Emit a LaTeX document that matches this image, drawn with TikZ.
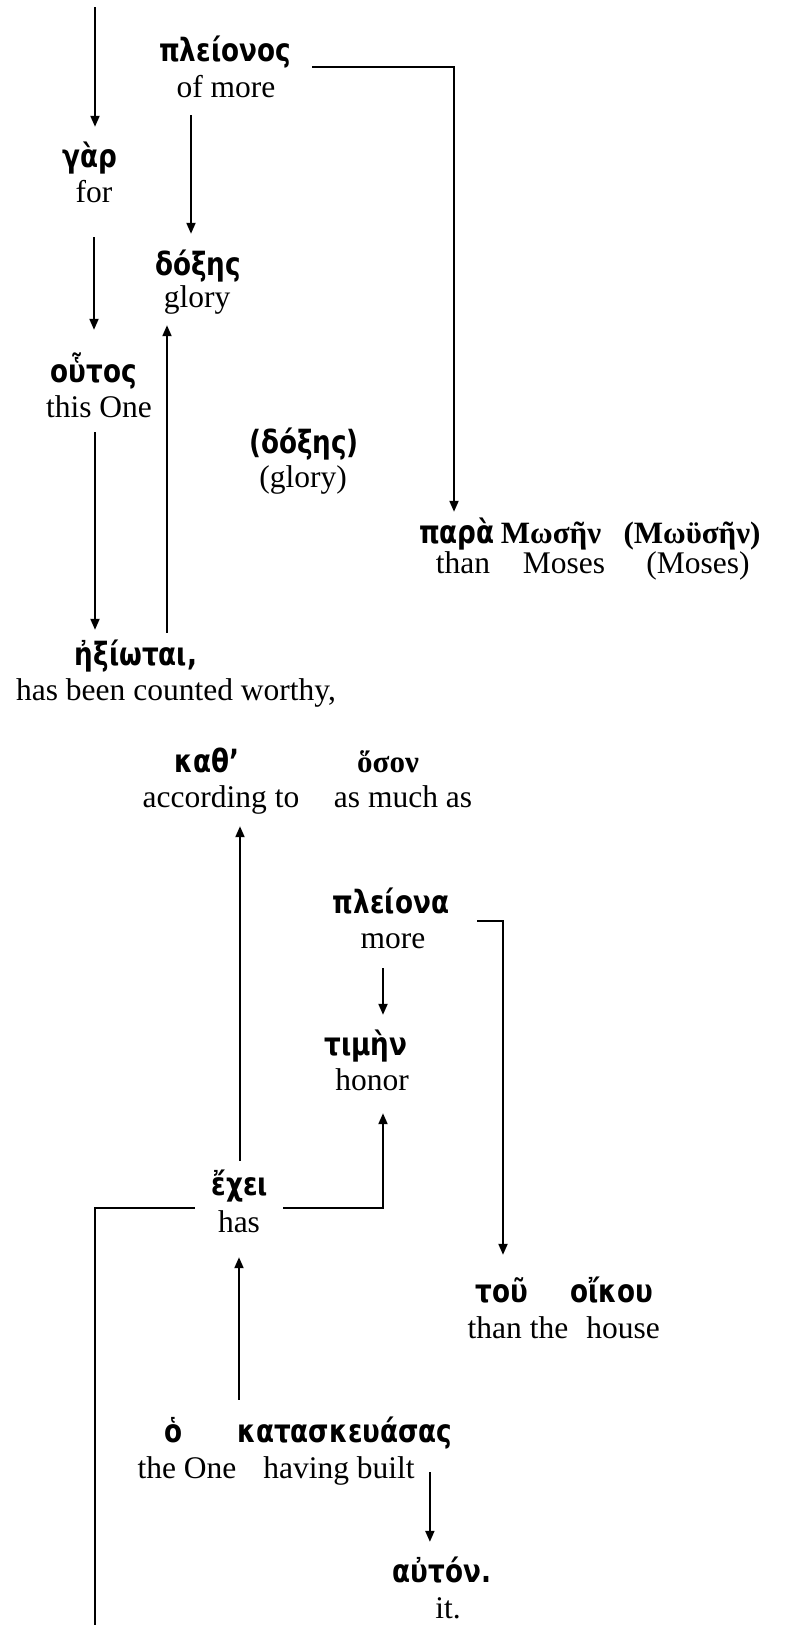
\documentclass[tikz,border=0pt]{standalone}
\usepackage{fontspec}
\setmainfont{Liberation Serif}
\newfontfamily\grf[FakeStretch=0.82]{DejaVu Sans}
\newfontfamily\grs{Liberation Serif}
\usetikzlibrary{arrows.meta,calc}
\begin{document}
\begin{tikzpicture}[x=1pt,y=-1pt,
  en/.style={anchor=base, inner sep=0pt, text height=21pt, text depth=7pt, font=\fontsize{31.5}{36}\selectfont},
  gk/.style={anchor=base, inner sep=0pt, text height=22pt, text depth=6pt, font=\grf\bfseries\fontsize{32}{36}\selectfont},
  gs/.style={anchor=base, inner sep=0pt, text height=22pt, text depth=6pt, font=\grs\bfseries\fontsize{31}{35}\selectfont},
  arr/.style={line width=2pt, -{Triangle[length=11pt,width=9pt]}},
  ln/.style={line width=2pt}]
\useasboundingbox (0,0) rectangle (785,1625);

% ---- upper part ----
\node[gk] (g-gar) at (90,167) {γὰρ};
\node[en] (e-gar) at (94,202) {for};
\node[gk] (g-plei) at (225,61) {πλείονος};
\node[en] (e-plei) at (226,97) {of more};
\node[gk] (g-dox) at (198,275) {δόξης};
\node[en] (e-dox) at (197,307) {glory};
\node[gk] (g-hout) at (94,382) {οὗτος};
\node[en] (e-hout) at (99,417) {this One};
\node[gk] (g-dox2) at (304,453) {(δόξης)};
\node[en] (e-dox2) at (303,487) {(glory)};
\node[gk] (g-ax) at (136,665) {ἠξίωται,};
\node[en] (e-ax) at (176,700) {has been counted worthy,};
\node[gk] (g-para) at (457,543) {παρὰ};
\node[gs] (g-mos) at (551,543) {Μωσῆν};
\node[gs] (g-mos2) at (692,543) {(Μωϋσῆν)};
\node[en] (e-para) at (463,573) {than};
\node[en] (e-mos) at (564,573) {Moses};
\node[en] (e-mos2) at (698,573) {(Moses)};

\coordinate (top) at (95,7);
\coordinate (c6) at (454,67);
\draw[arr, shorten >=18pt] (top) -- (top |- g-gar.north);
\draw[arr, shorten <=28pt, shorten >=30pt] (e-gar.south) -- (g-hout.north);
\draw[arr, shorten <=8pt, shorten >=13pt] ([xshift=-4pt]e-hout.south) -- ([xshift=-4pt]e-hout.south |- g-ax.north);
\draw[arr, shorten <=10pt, shorten >=11pt] ([xshift=31pt]g-ax.north) -- ([xshift=31pt]g-ax.north |- e-dox.south);
\draw[arr, shorten <=11pt, shorten >=19pt] ([xshift=-35pt]e-plei.south) -- ([xshift=-35pt]e-plei.south |- g-dox.north);
\draw[arr, shorten <=21pt, shorten >=9pt] (g-plei.east |- c6) -- (c6) -- (c6 |- g-para.north);

% ---- lower part ----
\node[gk] (g-kath) at (207,772) {καθ’};
\node[gs] (g-hoson) at (388,772) {ὅσον};
\node[en] (e-kath) at (221,807) {according to};
\node[en] (e-hoson) at (403,807) {as much as};
\node[gk] (g-pleiona) at (391,913) {πλείονα};
\node[en] (e-pleiona) at (393,948) {more};
\node[gk] (g-timen) at (366,1055) {τιμὴν};
\node[en] (e-timen) at (372,1090) {honor};
\node[gk] (g-exei) at (240,1195) {ἔχει};
\node[en] (e-exei) at (239,1232) {has};
\node[gk] (g-tou) at (502,1302) {τοῦ};
\node[gk] (g-oikou) at (612,1302) {οἴκου};
\node[en] (e-tou) at (518,1338) {than the};
\node[en] (e-oikou) at (623,1338) {house};
\node[gk] (g-ho) at (174,1442) {ὁ};
\node[gk] (g-kat) at (345,1442) {κατασκευάσας};
\node[en] (e-ho) at (187,1478) {the One};
\node[en] (e-kat) at (339,1478) {having built};
\node[gk] (g-auton) at (442,1582) {αὐτόν.};
\node[en] (e-auton) at (448,1618) {it.};

\coordinate (c9) at (503,921);
\coordinate (c10) at (383,1208);
\coordinate (c11) at (95,1208);
\coordinate (bot) at (95,1625);
\draw[arr, shorten <=12pt, shorten >=12pt] (g-exei.north) -- (g-exei.north |- e-kath.south);
\draw[arr, shorten <=13pt, shorten >=18pt] ([xshift=-10pt]e-pleiona.south) -- ([xshift=-10pt]e-pleiona.south |- g-timen.north);
\draw[arr, shorten <=28pt, shorten >=25pt] (g-pleiona.east |- c9) -- (c9) -- (c9 |- g-tou.north);
\draw[arr, shorten <=15pt, shorten >=16pt] (g-exei.east |- c10) -- (c10) -- (c10 |- e-timen.south);
\draw[ln, shorten <=17pt] (g-exei.west |- c11) -- (c11) -- (bot);
\draw[arr, shorten <=20pt, shorten >=18pt] (e-exei.south |- g-kat.north) -- (e-exei.south);
\draw[arr, shorten >=18pt] ([xshift=15pt,yshift=-1pt]e-kat.east) -- ([xshift=15pt]e-kat.east |- g-auton.north);
\end{tikzpicture}
\end{document}
